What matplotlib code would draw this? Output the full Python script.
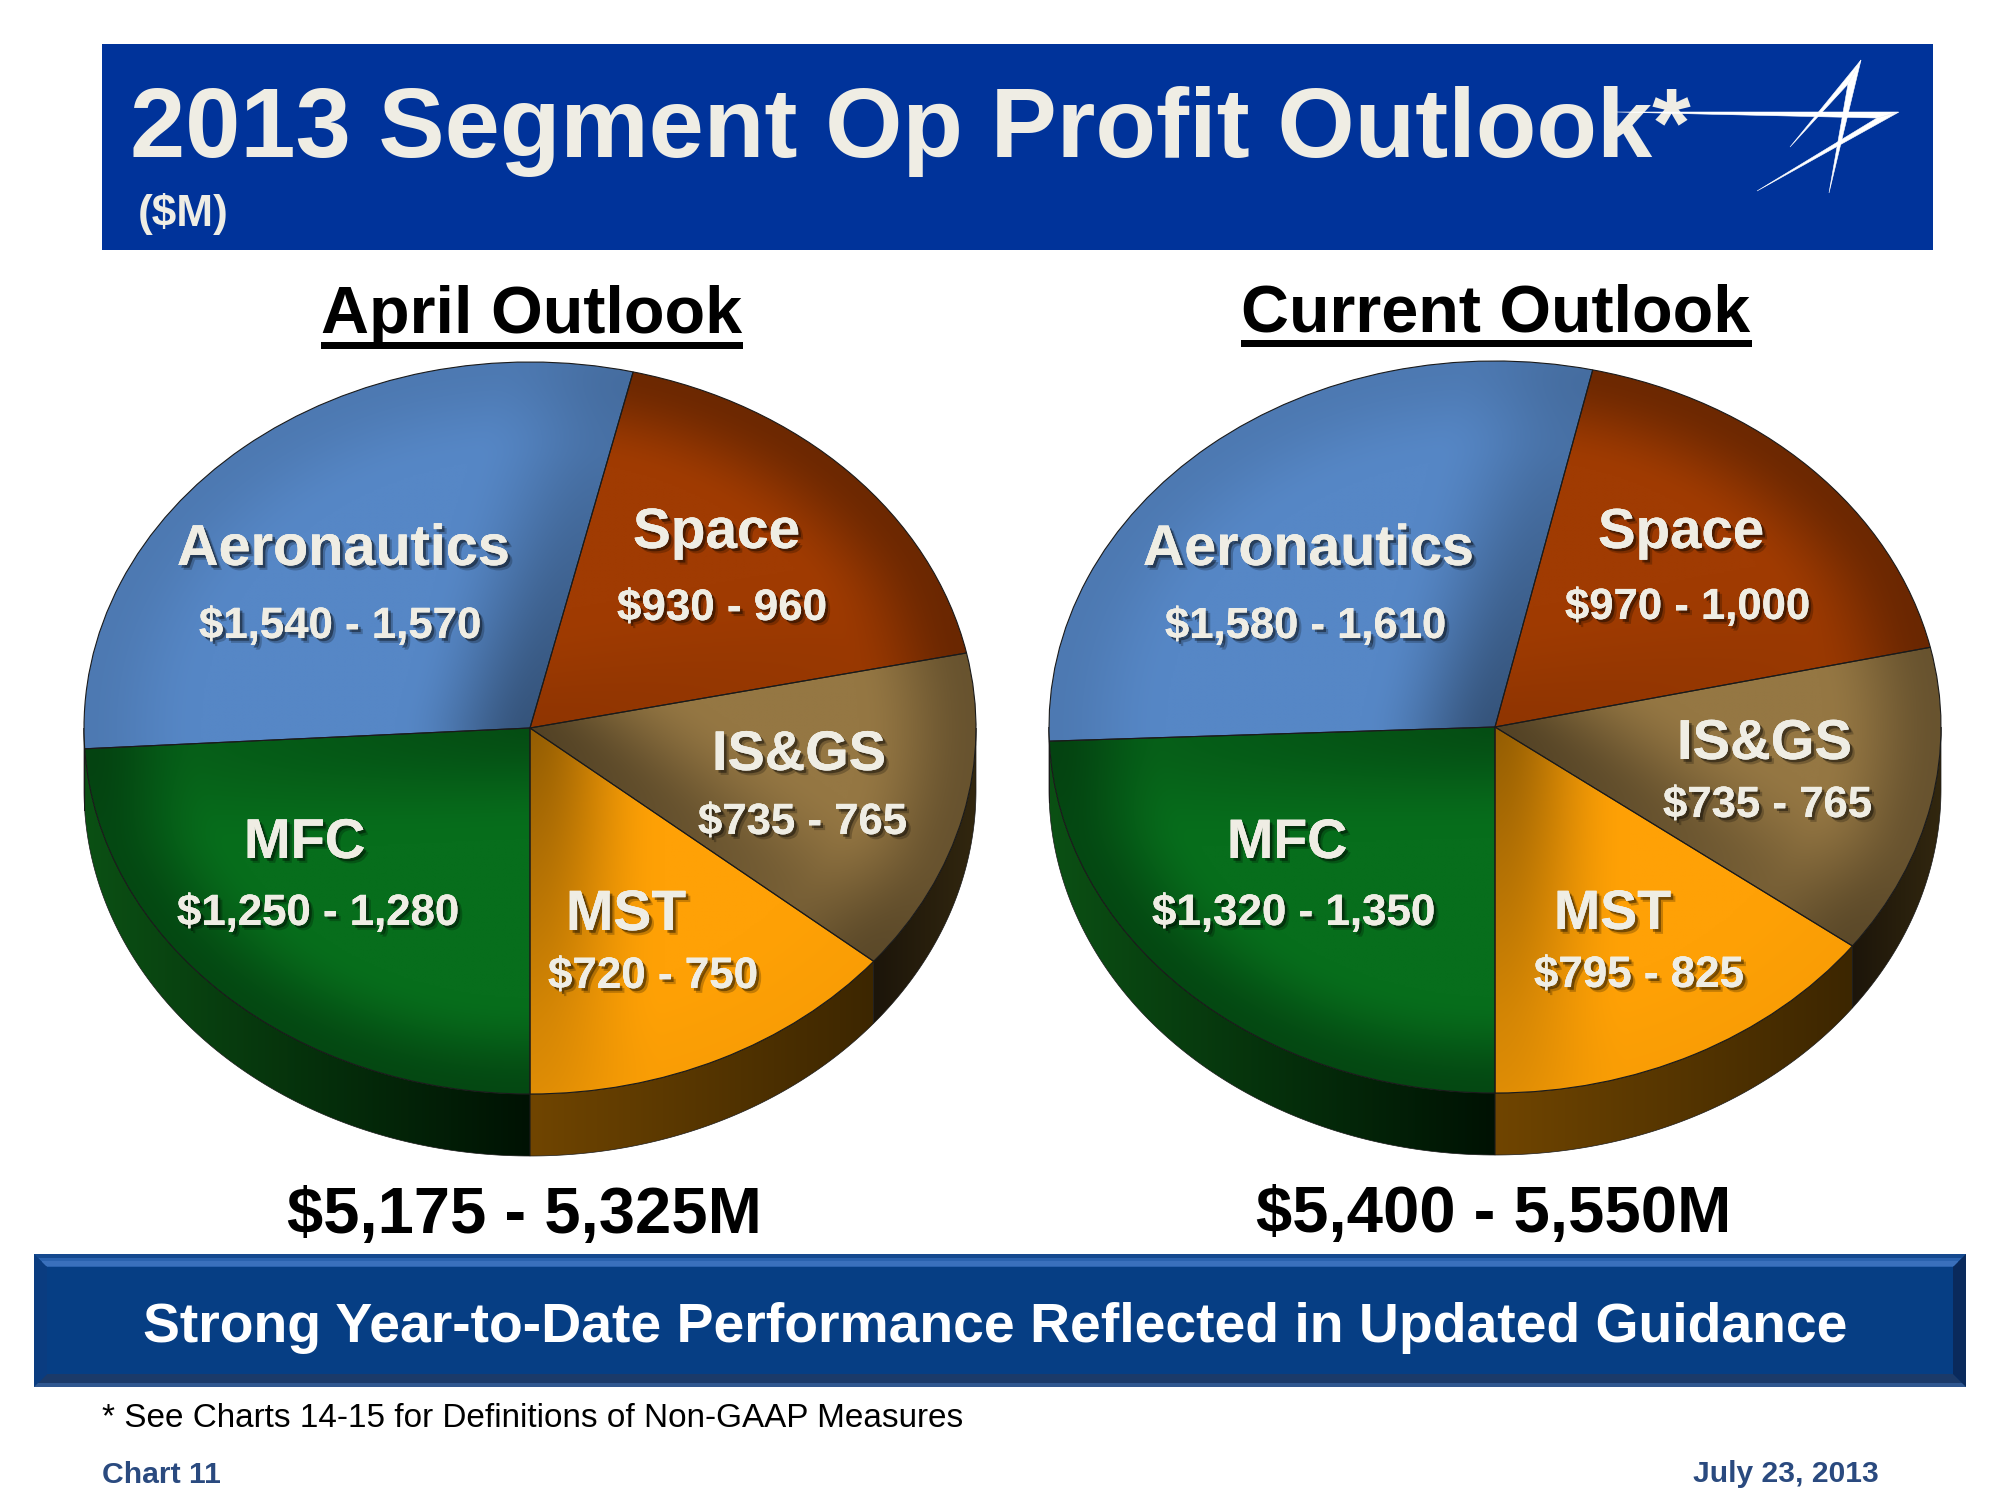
import numpy as np
import matplotlib
matplotlib.use("Agg")
import matplotlib.pyplot as plt
import matplotlib.patheffects as pe
from matplotlib.patches import Rectangle, Polygon
from matplotlib.colors import to_rgb

# ---------- data ----------
title = "2013 Segment Op Profit Outlook*"
subtitle = "($M)"
pie_titles = ["April Outlook", "Current Outlook"]
categories = ["Space", "IS&GS", "MST", "MFC", "Aeronautics"]
april_low = [930, 735, 720, 1250, 1540]
april_high = [960, 765, 750, 1280, 1570]
current_low = [970, 735, 795, 1320, 1580]
current_high = [1000, 765, 825, 1350, 1610]
totals = ["$5,175 - 5,325M", "$5,400 - 5,550M"]
banner = "Strong Year-to-Date Performance Reflected in Updated Guidance"
footnote = "* See Charts 14-15 for Definitions of Non-GAAP Measures"
chart_no = "Chart 11"
date = "July 23, 2013"

# ---------- styles ----------
colors = ["#A03B02", "#957743", "#FFA106", "#076E1C", "#5687C6"]
end_dark = [0.10, 0.45, 0.42, 0.30, 0.38]
arc_dark = [0.32, 0.30, 0.02, 0.34, 0.10]
wall_left = ["#000000", "#1C150A", "#704500", "#0B5014", "#0B5014"]
wall_right = ["#000000", "#32270F", "#3C2600", "#001203", "#0B5014"]
CREAM = "#EFEDE4"
RX, RY, DEPTH = 446, 366, 62
centers = [(530, 728), (1495, 727)]
W, H = 2000, 1500

fig = plt.figure(figsize=(W / 100, H / 100), dpi=100, facecolor="white")
bg = fig.add_axes([0, 0, 1, 1], zorder=0)
bg.set_xlim(0, W); bg.set_ylim(H, 0); bg.axis("off")
top = fig.add_axes([0, 0, 1, 1], zorder=5)
top.set_xlim(0, W); top.set_ylim(H, 0); top.axis("off"); top.patch.set_alpha(0)
renderer = fig.canvas.get_renderer()


def fit(text, x0, x1, base, color="k", weight="bold", shadow=False, size=30, zorder=6):
    t = top.text(x0, base, text, color=color, fontsize=size, fontweight=weight,
                 family="Liberation Sans", ha="left", va="baseline", zorder=zorder)
    w = t.get_window_extent(renderer).width
    t.set_fontsize(size * (x1 - x0) / w)
    if shadow:
        t.set_path_effects([
            pe.withSimplePatchShadow(offset=(3.5, -3.5), shadow_rgbFace="k", alpha=0.22),
            pe.withSimplePatchShadow(offset=(2, -2), shadow_rgbFace="k", alpha=0.40),
            pe.Normal()])
    return t


def smooth(v):
    v = np.clip(v, 0, 1)
    return v * v * (3 - 2 * v)


def draw_pie(cx, cy, lows, highs):
    vals = [(a + b) / 2 for a, b in zip(lows, highs)]
    total = sum(vals)
    start = -90 + 360 * sum(vals[:3]) / total
    pad = 4
    ax = fig.add_axes([(cx - RX - pad) / W, 1 - (cy + RY + DEPTH + pad) / H,
                       (2 * RX + 2 * pad) / W, (2 * RY + DEPTH + 2 * pad) / H], zorder=2)
    wedges, _ = ax.pie(vals, colors=colors, startangle=start, counterclock=False, radius=1,
                       wedgeprops=dict(linewidth=0.8, edgecolor="#1a1a1a"))
    ax.set_aspect("auto")
    dz = DEPTH / RY

    # side wall
    for i, wd in enumerate(wedges):
        a, b = wd.theta1 % 360, wd.theta2 % 360
        if b <= a:
            b += 360
        spans = []
        for lo, hi in [(180, 360), (540, 720)]:
            s, e = max(a, lo), min(b, hi)
            if e > s:
                spans.append((s, e))
        for s, e in spans:
            th = np.radians(np.linspace(s, e, 120))
            xs, ys = np.cos(th), np.sin(th)
            pts = np.r_[np.c_[xs, ys], np.c_[xs[::-1], ys[::-1] - dz]]
            poly = Polygon(pts, closed=True, fc="none", ec="#1a1a1a", lw=0.5, zorder=1.5)
            ax.add_patch(poly)
            c0, c1 = np.array(to_rgb(wall_left[i])), np.array(to_rgb(wall_right[i]))
            f = np.linspace(0, 1, 128)[None, :, None]
            img = c0[None, None, :] * (1 - f) + c1[None, None, :] * f
            im = ax.imshow(img, extent=(xs.min(), xs.max(), -1 - dz, 1), origin="lower",
                           aspect="auto", zorder=1, interpolation="bilinear")
            im.set_clip_path(poly)

    # top face shading
    g = np.linspace(-1, 1, 500)
    X, Y = np.meshgrid(g, g)
    R = np.hypot(X, Y)
    TH = np.degrees(np.arctan2(Y, X))
    for i, wd in enumerate(wedges):
        dth = (TH - wd.theta1) % 360
        d_end = R * np.sin(np.radians(np.minimum(dth, 90)))
        dark_end = end_dark[i] * (1 - smooth(d_end / 0.30)) * (1 - 0.75 * np.clip(R, 0, 1))
        dark_arc = arc_dark[i] * (1 - smooth((1 - R) / 0.26))
        shade = (1 - dark_end) * (1 - dark_arc)
        img = np.clip(shade[..., None] * np.array(to_rgb(colors[i])), 0, 1)
        im = ax.imshow(img, extent=(-1, 1, -1, 1), origin="lower", aspect="auto",
                       zorder=2, interpolation="bilinear")
        im.set_clip_path(wd)
        wd.set_facecolor("none")
        wd.set_zorder(3)
    ax.set_xlim(-1 - pad / RX, 1 + pad / RX)
    ax.set_ylim(-1 - dz - pad / RY, 1 + pad / RY)
    ax.axis("off")


draw_pie(*centers[0], april_low, april_high)
draw_pie(*centers[1], current_low, current_high)

# ---------- header ----------
bg.add_patch(Rectangle((102, 44), 1831, 206, fc="#00339A", ec="none"))
fit(title, 130, 1692, 157, color=CREAM, size=70)
fit(subtitle, 138, 229, 226, color=CREAM, size=30)
for p in ([(1617, 112), (1898, 112), (1877, 118), (1700, 114)],
          [(1899, 112), (1757, 191), (1877, 118)],
          [(1861, 60), (1790, 147), (1848, 84)],
          [(1861, 60), (1829, 193), (1848, 84)]):
    top.add_patch(Polygon(p, closed=True, fc="white", ec="white", lw=0.4, zorder=7))

# ---------- pie titles ----------
fit(pie_titles[0], 321, 742, 333)
bg.add_patch(Rectangle((321, 342), 422, 7, fc="k", ec="none"))
fit(pie_titles[1], 1241, 1750, 332)
bg.add_patch(Rectangle((1241, 340), 511, 7, fc="k", ec="none"))

# ---------- pie labels (x0, x1, baseline for name and for range) ----------
april_pos = [((633, 800, 548), (617, 827, 620)),
             ((712, 886, 770), (698, 907, 834)),
             ((566, 686, 930), (548, 758, 988)),
             ((244, 365, 858), (177, 459, 925)),
             ((177, 510, 565), (199, 481, 638))]
current_pos = [((1598, 1764, 548), (1565, 1810, 619)),
               ((1677, 1852, 759), (1663, 1872, 817)),
               ((1554, 1671, 929), (1534, 1744, 987)),
               ((1227, 1347, 858), (1152, 1435, 925)),
               ((1143, 1474, 565), (1165, 1446, 638))]
for lows, highs, pos in ((april_low, april_high, april_pos),
                         (current_low, current_high, current_pos)):
    for name, lo, hi, (p1, p2) in zip(categories, lows, highs, pos):
        fit(name, *p1, color=CREAM, shadow=True)
        fit(f"${lo:,} - {hi:,}", *p2, color=CREAM, shadow=True)

# ---------- totals ----------
fit(totals[0], 287, 761, 1233)
fit(totals[1], 1256, 1731, 1232)

# ---------- banner ----------
x0, x1, y0, y1 = 34, 1966, 1254, 1387
bv = 13
bg.add_patch(Rectangle((x0, y0), x1 - x0, y1 - y0, fc="#063E84", ec="none"))
bg.add_patch(Polygon([(x0, y0), (x1, y0), (x1 - bv, y0 + bv), (x0 + bv, y0 + bv)], fc="#2A62AE", ec="none"))
bg.add_patch(Rectangle((x0, y0), x1 - x0, 4, fc="#14498F", ec="none"))
bg.add_patch(Rectangle((x0 + 8, y0 + 7), x1 - x0 - 16, 5, fc="#3A70BC", ec="none"))
bg.add_patch(Polygon([(x0, y1), (x1, y1), (x1 - bv, y1 - bv), (x0 + bv, y1 - bv)], fc="#1B3A69", ec="none"))
bg.add_patch(Rectangle((x0, y1 - 4), x1 - x0, 4, fc="#2F5790", ec="none"))
bg.add_patch(Polygon([(x0, y0), (x0 + bv, y0 + bv), (x0 + bv, y1 - bv), (x0, y1)], fc="#0A3C80", ec="none"))
bg.add_patch(Polygon([(x1, y0), (x1 - bv, y0 + bv), (x1 - bv, y1 - bv), (x1, y1)], fc="#0A2A5C", ec="none"))
fit(banner, 143, 1849, 1342, color="white")

# ---------- footer ----------
fit(footnote, 102, 962, 1427, weight="normal")
fit(chart_no, 102, 221, 1483, color="#2A4A7F")
fit(date, 1693, 1878, 1482, color="#2A4A7F")

fig.savefig("out.png", dpi=100, facecolor="white")
